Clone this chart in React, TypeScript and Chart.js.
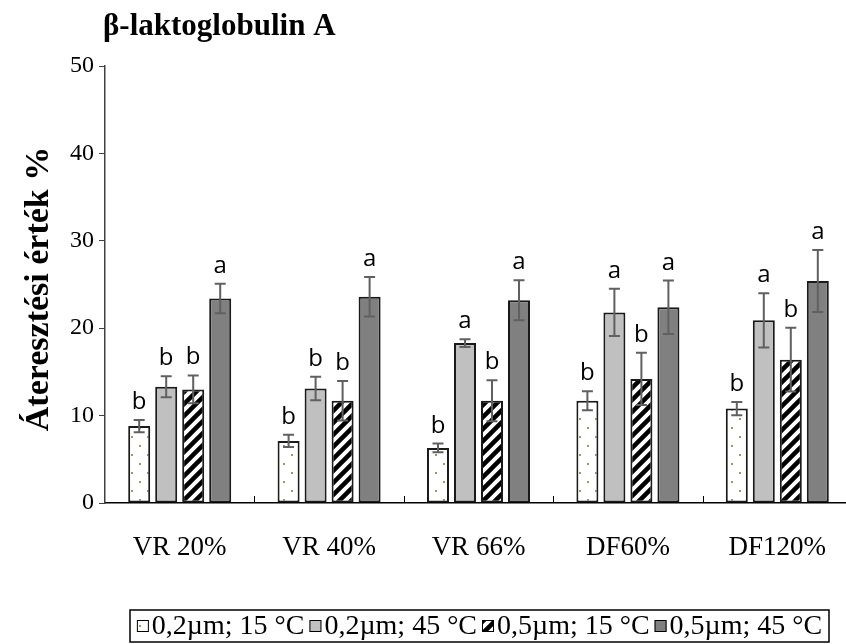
import React, { useEffect, useRef } from "react";
import { Chart, registerables } from "chart.js";

Chart.register(...registerables);

const titleText = "β-laktoglobulin A";
const yAxisTitle = "Áteresztési érték %";
const categories = ["VR 20%", "VR 40%", "VR 66%", "DF60%", "DF120%"];
const seriesNames = ["0,2µm; 15 °C", "0,2µm; 45 °C", "0,5µm; 15 °C", "0,5µm; 45 °C"];

const s1Values = [8.8, 7.1, 6.3, 11.7, 10.8];
const s2Values = [13.3, 13.1, 18.3, 21.8, 20.9];
const s3Values = [13.0, 11.7, 11.7, 14.2, 16.4];
const s4Values = [23.4, 23.6, 23.2, 22.4, 25.4];

const s1Errors = [0.7, 0.7, 0.5, 1.1, 0.75];
const s2Errors = [1.2, 1.35, 0.45, 2.7, 3.1];
const s3Errors = [1.6, 2.25, 2.35, 3.0, 3.65];
const s4Errors = [1.7, 2.25, 2.3, 3.05, 3.55];

const s1Letters = ["b", "b", "b", "b", "b"];
const s2Letters = ["b", "b", "a", "a", "a"];
const s3Letters = ["b", "b", "b", "b", "b"];
const s4Letters = ["a", "a", "a", "a", "a"];

const yMin = 0;
const yMax = 50;
const yStep = 10;

const allValues = [s1Values, s2Values, s3Values, s4Values];
const allErrors = [s1Errors, s2Errors, s3Errors, s4Errors];
const allLetters = [s1Letters, s2Letters, s3Letters, s4Letters];

const SERIF = '"Liberation Serif", "Times New Roman", serif';
const SANS = '"Open Sans", "Noto Sans", sans-serif';

function makeDotPattern(): CanvasPattern | string {
  const c = document.createElement("canvas");
  c.width = 16;
  c.height = 18;
  const g = c.getContext("2d");
  if (!g) return "#fff";
  g.fillStyle = "#ffffff";
  g.fillRect(0, 0, 16, 18);
  g.fillStyle = "#a39366";
  g.fillRect(3, 4, 2, 2);
  g.fillRect(11, 13, 2, 2);
  return g.createPattern(c, "repeat") || "#fff";
}

function makeHatchPattern(): CanvasPattern | string {
  const s = 12;
  const c = document.createElement("canvas");
  c.width = s;
  c.height = s;
  const g = c.getContext("2d");
  if (!g) return "#000";
  g.fillStyle = "#ffffff";
  g.fillRect(0, 0, s, s);
  g.strokeStyle = "#000000";
  g.lineWidth = 4.5;
  g.beginPath();
  g.moveTo(-s, s * 2);
  g.lineTo(s * 2, -s);
  g.moveTo(-s, s);
  g.lineTo(s, -s);
  g.moveTo(0, s * 2);
  g.lineTo(s * 2, 0);
  g.stroke();
  return g.createPattern(c, "repeat") || "#000";
}

export default function App() {
  const canvasRef = useRef<HTMLCanvasElement | null>(null);

  useEffect(() => {
    const canvas = canvasRef.current;
    if (!canvas) return;
    const dot = makeDotPattern();
    const hatch = makeHatchPattern();
    const fills: (CanvasPattern | string)[] = [dot, "#c0c0c0", hatch, "#808080"];

    const decorPlugin = {
      id: "decor",
      afterDatasetsDraw(chart: any) {
        const ctx = chart.ctx as CanvasRenderingContext2D;
        const y = chart.scales.y;
        ctx.save();
        chart.data.datasets.forEach((_ds: any, di: number) => {
          const meta = chart.getDatasetMeta(di);
          meta.data.forEach((bar: any, i: number) => {
            const v = allValues[di][i];
            const e = allErrors[di][i];
            const x = bar.x;
            const yt = y.getPixelForValue(v + e);
            const yb = y.getPixelForValue(v - e);
            ctx.strokeStyle = "#606060";
            ctx.lineWidth = 2;
            ctx.beginPath();
            ctx.moveTo(x, yt);
            ctx.lineTo(x, yb);
            ctx.moveTo(x - 5.5, yt);
            ctx.lineTo(x + 5.5, yt);
            ctx.moveTo(x - 5.5, yb);
            ctx.lineTo(x + 5.5, yb);
            ctx.stroke();
            ctx.fillStyle = "#000";
            ctx.font = "24px " + SANS;
            ctx.textAlign = "center";
            ctx.textBaseline = "alphabetic";
            ctx.fillText(allLetters[di][i], x, yt - 11);
          });
        });
        ctx.restore();
      },
      afterDraw(chart: any) {
        const ctx = chart.ctx as CanvasRenderingContext2D;
        const area = chart.chartArea;
        const xs = chart.scales.x;
        ctx.save();
        // inward category separator ticks
        ctx.strokeStyle = "#000";
        ctx.lineWidth = 1;
        const n = categories.length;
        for (let i = 1; i < n; i++) {
          const px = Math.round(xs.left + (i * (xs.right - xs.left)) / n) + 0.5;
          ctx.beginPath();
          ctx.moveTo(px, area.bottom);
          ctx.lineTo(px, area.bottom - 7);
          ctx.stroke();
        }
        // title
        ctx.fillStyle = "#000";
        ctx.font = "bold 31px " + SERIF;
        ctx.textAlign = "left";
        ctx.textBaseline = "alphabetic";
        ctx.fillText(titleText, 103, 35);
        // y axis title
        ctx.save();
        ctx.translate(39, 289);
        ctx.rotate(-Math.PI / 2);
        ctx.font = "bold 34px " + SERIF;
        ctx.textAlign = "center";
        ctx.textBaseline = "middle";
        ctx.fillText(yAxisTitle, 0, 0);
        ctx.restore();
        // legend
        ctx.font = "28px " + SERIF;
        const sw = 12;
        const gapSwText = 3;
        const gapItems = 5;
        const widths = seriesNames.map((s) => ctx.measureText(s).width);
        const total =
          widths.reduce((a, b) => a + b, 0) + seriesNames.length * (sw + gapSwText) + (seriesNames.length - 1) * gapItems;
        const boxL = 130;
        const boxR = 829;
        const boxT = 610;
        const boxB = 642;
        ctx.strokeStyle = "#000";
        ctx.lineWidth = 1.5;
        ctx.strokeRect(boxL, boxT, boxR - boxL, boxB - boxT);
        let lx = (boxL + boxR) / 2 - total / 2;
        const cy = (boxT + boxB) / 2;
        seriesNames.forEach((name, i) => {
          ctx.fillStyle = fills[i] as any;
          ctx.fillRect(lx, cy - sw / 2, sw, sw);
          ctx.strokeStyle = "#000";
          ctx.lineWidth = 1;
          ctx.strokeRect(lx + 0.5, cy - sw / 2 + 0.5, sw - 1, sw - 1);
          ctx.fillStyle = "#000";
          ctx.textAlign = "left";
          ctx.textBaseline = "middle";
          ctx.fillText(name, lx + sw + gapSwText, cy + 1);
          lx += sw + gapSwText + widths[i] + gapItems;
        });
        ctx.restore();
      },
    };

    const chart = new Chart(canvas, {
      type: "bar",
      data: {
        labels: categories,
        datasets: seriesNames.map((name, i) => ({
          label: name,
          data: allValues[i],
          backgroundColor: fills[i] as any,
          borderColor: "#1a1a1a",
          borderWidth: 2,
          borderSkipped: false,
          categoryPercentage: 0.723,
          barPercentage: 0.815,
        })),
      },
      options: {
        responsive: false,
        animation: false,
        events: [],
        layout: { padding: { top: 66, right: 8, left: 0, bottom: 0 } },
        plugins: {
          legend: { display: false },
          title: { display: false },
          tooltip: { enabled: false },
        },
        scales: {
          x: {
            grid: { drawOnChartArea: false, drawTicks: false },
            border: { display: true, color: "#000", width: 1.5 },
            ticks: {
              color: "#000",
              font: { family: SERIF, size: 27 },
              padding: 29,
              maxRotation: 0,
              autoSkip: false,
            },
            afterFit(scale: any) {
              scale.height = 141;
            },
          },
          y: {
            min: yMin,
            max: yMax,
            grid: { drawOnChartArea: false, drawTicks: true, tickLength: 6, color: "#404040" },
            border: { display: true, color: "#404040", width: 1.5 },
            ticks: {
              stepSize: yStep,
              color: "#000",
              font: { family: SERIF, size: 24 },
              padding: 5,
            },
            afterFit(scale: any) {
              scale.width = 105;
            },
          },
        },
      },
      plugins: [decorPlugin],
    });

    return () => chart.destroy();
  }, []);

  return (
    <div
      style={{
        position: "fixed",
        left: 0,
        top: 0,
        width: 846,
        height: 644,
        overflow: "hidden",
        background: "#fff",
      }}
    >
      <canvas ref={canvasRef} width={860} height={644} style={{ display: "block", width: 860, height: 644 }} />
    </div>
  );
}
